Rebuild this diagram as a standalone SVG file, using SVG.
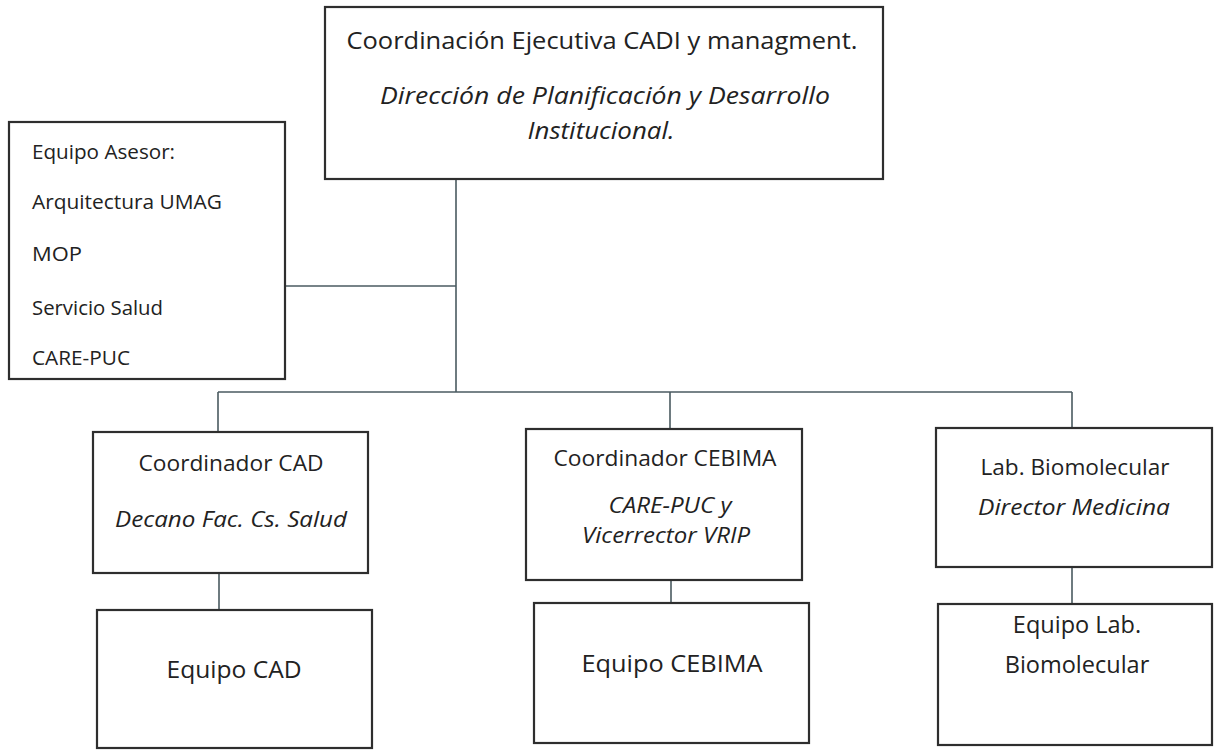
<svg xmlns="http://www.w3.org/2000/svg" width="1214" height="750" viewBox="0 0 1214 750">
<style>
.box{fill:#ffffff;stroke:#2e2e2e;stroke-width:2.2}
.con{fill:none;stroke:#4a5a60;stroke-width:1.6}
text{font-family:"Open Sans","Liberation Sans",sans-serif;fill:#222222}
.c{text-anchor:middle}
.i{font-style:italic}
.t1{font-size:23px}
.t2{font-size:20px}
.t3{font-size:21px}
.t4{font-size:24px}
.t5{font-size:23.5px}
</style>
<rect width="1214" height="750" fill="#ffffff"/>
<g id="connectors">
<path class="con" d="M456,179 V392"/>
<path class="con" d="M285,286 H456"/>
<path class="con" d="M218,392 H1072"/>
<path class="con" d="M218,392 V432"/>
<path class="con" d="M670,392 V429"/>
<path class="con" d="M1072,392 V428"/>
<path class="con" d="M219,573 V610"/>
<path class="con" d="M671,580 V603"/>
<path class="con" d="M1072,567 V604"/>
</g>
<g id="node-coordinacion">
<rect class="box" x="325" y="7" width="558" height="172"/>
<text class="t1 c" x="602" y="49" textLength="511" lengthAdjust="spacingAndGlyphs">Coordinación Ejecutiva CADI y managment.</text>
<text class="t1 c i" x="605" y="104" textLength="450" lengthAdjust="spacingAndGlyphs">Dirección de Planificación y Desarrollo</text>
<text class="t1 c i" x="601" y="139" textLength="147" lengthAdjust="spacingAndGlyphs">Institucional.</text>
</g>
<g id="node-asesor">
<rect class="box" x="9" y="122" width="276" height="257"/>
<text class="t2" x="32" y="159" textLength="143" lengthAdjust="spacingAndGlyphs">Equipo Asesor:</text>
<text class="t2" x="32" y="209" textLength="190" lengthAdjust="spacingAndGlyphs">Arquitectura UMAG</text>
<text class="t2" x="32" y="261" textLength="50" lengthAdjust="spacingAndGlyphs">MOP</text>
<text class="t2" x="32" y="315" textLength="131" lengthAdjust="spacingAndGlyphs">Servicio Salud</text>
<text class="t2" x="32" y="365" textLength="98" lengthAdjust="spacingAndGlyphs">CARE-PUC</text>
</g>
<g id="node-coord-cad">
<rect class="box" x="93" y="432" width="275" height="141"/>
<text class="t3 c" x="231" y="471" textLength="185" lengthAdjust="spacingAndGlyphs">Coordinador CAD</text>
<text class="t3 c i" x="231" y="527" textLength="232" lengthAdjust="spacingAndGlyphs">Decano Fac. Cs. Salud</text>
</g>
<g id="node-equipo-cad">
<rect class="box" x="97" y="610" width="275" height="138"/>
<text class="t4 c" x="234" y="678" textLength="135" lengthAdjust="spacingAndGlyphs">Equipo CAD</text>
</g>
<g id="node-coord-cebima">
<rect class="box" x="526" y="429" width="276" height="151"/>
<text class="t3 c" x="665" y="466" textLength="223" lengthAdjust="spacingAndGlyphs">Coordinador CEBIMA</text>
<text class="t3 c i" x="670" y="513" textLength="123" lengthAdjust="spacingAndGlyphs">CARE-PUC y</text>
<text class="t3 c i" x="666" y="543" textLength="168" lengthAdjust="spacingAndGlyphs">Vicerrector VRIP</text>
</g>
<g id="node-equipo-cebima">
<rect class="box" x="534" y="603" width="275" height="140"/>
<text class="t4 c" x="672" y="672" textLength="181" lengthAdjust="spacingAndGlyphs">Equipo CEBIMA</text>
</g>
<g id="node-lab">
<rect class="box" x="936" y="428" width="276" height="139"/>
<text class="t3 c" x="1075" y="475" textLength="189" lengthAdjust="spacingAndGlyphs">Lab. Biomolecular</text>
<text class="t3 c i" x="1074" y="515" textLength="192" lengthAdjust="spacingAndGlyphs">Director Medicina</text>
</g>
<g id="node-equipo-lab">
<rect class="box" x="938" y="604" width="274" height="141"/>
<text class="t5 c" x="1077" y="633">Equipo Lab.</text>
<text class="t5 c" x="1077" y="673">Biomolecular</text>
</g>
</svg>
